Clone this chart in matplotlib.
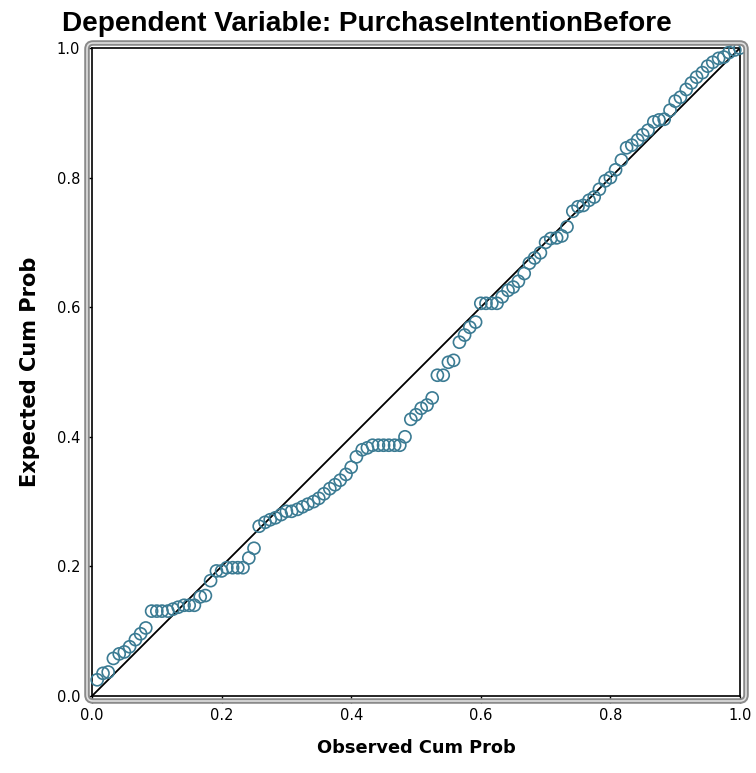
import matplotlib
matplotlib.use("Agg")
import matplotlib.pyplot as plt
from matplotlib.patches import FancyBboxPatch

# observed cumulative probabilities (x) and expected cumulative probabilities (y)
observed = [0.008, 0.017, 0.025, 0.033, 0.042, 0.050, 0.058, 0.067, 0.075, 0.083,
            0.092, 0.100, 0.108, 0.117, 0.125, 0.133, 0.142, 0.150, 0.158, 0.167,
            0.175, 0.183, 0.192, 0.200, 0.208, 0.217, 0.225, 0.233, 0.242, 0.250,
            0.258, 0.267, 0.275, 0.283, 0.292, 0.300, 0.308, 0.317, 0.325, 0.333,
            0.342, 0.350, 0.358, 0.367, 0.375, 0.383, 0.392, 0.400, 0.408, 0.417,
            0.425, 0.433, 0.442, 0.450, 0.458, 0.467, 0.475, 0.483, 0.492, 0.500,
            0.508, 0.517, 0.525, 0.533, 0.542, 0.550, 0.558, 0.567, 0.575, 0.583,
            0.592, 0.600, 0.608, 0.617, 0.625, 0.633, 0.642, 0.650, 0.658, 0.667,
            0.675, 0.683, 0.692, 0.700, 0.708, 0.717, 0.725, 0.733, 0.742, 0.750,
            0.758, 0.767, 0.775, 0.783, 0.792, 0.800, 0.808, 0.817, 0.825, 0.833,
            0.842, 0.850, 0.858, 0.867, 0.875, 0.883, 0.892, 0.900, 0.908, 0.917,
            0.925, 0.933, 0.942, 0.950, 0.958, 0.967, 0.975, 0.983, 0.992, 1.000]

expected = [0.025, 0.035, 0.037, 0.058, 0.065, 0.068, 0.076, 0.087, 0.096, 0.105,
            0.131, 0.131, 0.131, 0.131, 0.134, 0.137, 0.140, 0.140, 0.140, 0.153,
            0.155, 0.178, 0.193, 0.193, 0.198, 0.198, 0.198, 0.198, 0.213, 0.228,
            0.262, 0.268, 0.272, 0.275, 0.280, 0.285, 0.285, 0.288, 0.292, 0.296,
            0.300, 0.305, 0.312, 0.320, 0.326, 0.333, 0.342, 0.353, 0.369, 0.380,
            0.383, 0.387, 0.387, 0.387, 0.387, 0.387, 0.387, 0.400, 0.427, 0.434,
            0.444, 0.449, 0.460, 0.495, 0.495, 0.515, 0.518, 0.546, 0.557, 0.569,
            0.577, 0.606, 0.606, 0.606, 0.606, 0.616, 0.626, 0.631, 0.640, 0.652,
            0.668, 0.676, 0.684, 0.700, 0.706, 0.707, 0.710, 0.724, 0.748, 0.755,
            0.757, 0.765, 0.770, 0.782, 0.795, 0.800, 0.812, 0.827, 0.846, 0.850,
            0.858, 0.866, 0.873, 0.886, 0.889, 0.890, 0.904, 0.918, 0.924, 0.936,
            0.946, 0.955, 0.962, 0.972, 0.978, 0.984, 0.986, 0.993, 0.997, 1.000]

ticks = [0.0, 0.2, 0.4, 0.6, 0.8, 1.0]
tick_labels = ["0.0", "0.2", "0.4", "0.6", "0.8", "1.0"]

fig = plt.figure(figsize=(7.56, 7.73), dpi=100)
ax = fig.add_axes([92 / 756, 1 - 696 / 773, 648 / 756, 648 / 773])

## gray rounded frame around the plot area
for lw, col in [(4.0, "#8a8a8a"), (1.2, "#e0e0e0")]:
    frame = FancyBboxPatch((87 / 756, 1 - 701 / 773), 659 / 756, 658 / 773,
                           boxstyle="round,pad=0,rounding_size=0.008",
                           transform=fig.transFigure, fill=False,
                           edgecolor=col, linewidth=lw, zorder=0)
    fig.patches.append(frame)

ax.plot([0, 1], [0, 1], color="black", linewidth=1.3, zorder=2)
ax.scatter(observed, expected, s=75, facecolors="none",
           edgecolors="#3b7b93", linewidths=1.2, zorder=3, clip_on=False)

ax.set_xlim(0, 1)
ax.set_ylim(0, 1)
ax.set_xticks(ticks)
ax.set_xticklabels(tick_labels)
ax.set_yticks(ticks)
ax.set_yticklabels(tick_labels)
ax.tick_params(direction="out", length=5, width=1, labelsize=10.5, colors="black")
for sp in ax.spines.values():
    sp.set_color("black")
    sp.set_linewidth(1.2)

title = fig.text(62 / 756, 1 - 24 / 773, "Dependent Variable: PurchaseIntentionBefore",
                 fontsize=20, family=["Liberation Sans", "DejaVu Sans"],
                 fontweight="bold", ha="left", va="center")
xlab = fig.text(416 / 756, 1 - 748 / 773, "Observed Cum Prob", fontsize=13,
                fontweight="bold", ha="center", va="center")
ylab = fig.text(30 / 756, 1 - 372 / 773, "Expected Cum Prob", fontsize=14,
                fontweight="bold", ha="center", va="center", rotation=90)

## scale text sizes so their widths match the reference
fig.canvas.draw()
r = fig.canvas.get_renderer()
for t, target, horiz in [(title, 606, True), (xlab, 198, True), (ylab, 232, False)]:
    bb = t.get_window_extent(r)
    cur = bb.width if horiz else bb.height
    t.set_fontsize(t.get_fontsize() * target / cur)

fig.savefig("out.png", dpi=100)
